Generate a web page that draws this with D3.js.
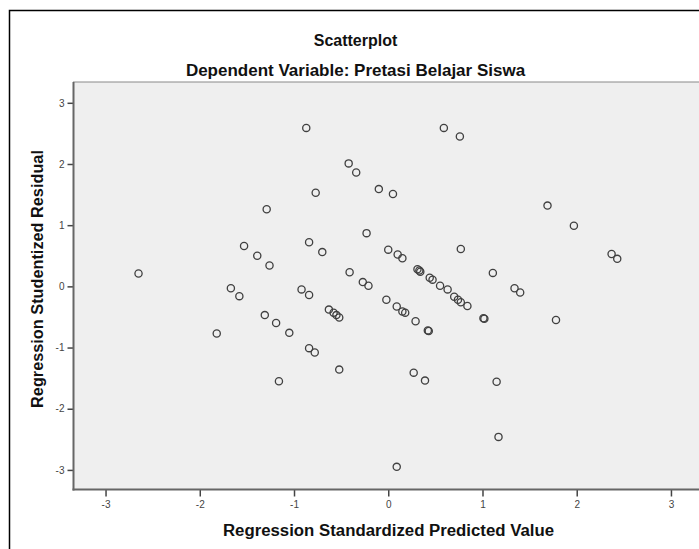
<!DOCTYPE html>
<html>
<head>
<meta charset="utf-8">
<script src="https://cdn.jsdelivr.net/npm/d3@7"></script>
<style>
  body { margin: 0; background: #fff; }
  svg { display: block; font-family: "Liberation Sans", Arial, sans-serif; }
  .title { font-weight: bold; fill: #111; }
</style>
</head>
<body>
<div id="chart"></div>
<script>
// predicted (x) and studentized residual (y)
const predicted = [
  -2.65, -1.82, -1.67, -1.58, -1.53, -1.39, -1.31, -1.29, -1.26, -1.19,
  -1.16, -1.05, -0.92, -0.87, -0.84, -0.84, -0.84, -0.78, -0.77, -0.70,
  -0.63, -0.58, -0.55, -0.52, -0.52, -0.42, -0.41, -0.34, -0.27, -0.23,
  -0.21, -0.10, -0.02, 0.00, 0.05, 0.09, 0.09, 0.10, 0.15, 0.15,
  0.18, 0.27, 0.29, 0.31, 0.33, 0.34, 0.39, 0.42, 0.43, 0.44,
  0.47, 0.55, 0.59, 0.63, 0.70, 0.74, 0.77, 0.76, 0.77, 0.84,
  1.01, 1.02, 1.11, 1.15, 1.17, 1.34, 1.40, 1.69, 1.78, 1.97,
  2.37, 2.43
];
const residual = [
  0.21, -0.77, -0.03, -0.16, 0.66, 0.50, -0.47, 1.26, 0.34, -0.60,
  -1.55, -0.76, -0.05, 2.59, -0.14, 0.72, -1.01, -1.08, 1.53, 0.56,
  -0.38, -0.43, -0.47, -0.51, -1.36, 2.01, 0.23, 1.86, 0.07, 0.87,
  0.01, 1.59, -0.22, 0.60, 1.51, -0.33, -2.95, 0.52, 0.46, -0.41,
  -0.43, -1.41, -0.57, 0.28, 0.26, 0.24, -1.54, -0.72, -0.73, 0.14,
  0.11, 0.01, 2.59, -0.05, -0.17, -0.22, -0.26, 2.45, 0.61, -0.32,
  -0.52, -0.53, 0.22, -1.56, -2.46, -0.03, -0.10, 1.32, -0.55, 0.99,
  0.53, 0.45
];
const tickValues = [-3, -2, -1, 0, 1, 2, 3];

const width = 699, height = 549;
const svg = d3.select("#chart").append("svg")
    .attr("width", width)
    .attr("height", height);

// outer frame (runs off the right and bottom edges)
svg.append("rect")
    .attr("x", 9.5).attr("y", 10.5)
    .attr("width", 720).attr("height", 560)
    .attr("fill", "#fff")
    .attr("stroke", "#000")
    .attr("stroke-width", 1.5);

const plotLeft = 73.5, plotTop = 82, plotBottom = 489.5, plotRight = 703;
const x = d3.scaleLinear().domain([-3.34, 3.34]).range([plotLeft, plotRight]);
const y = d3.scaleLinear().domain([-3.32, 3.34]).range([plotBottom, plotTop]);

svg.append("rect")
    .attr("x", plotLeft).attr("y", plotTop)
    .attr("width", plotRight - plotLeft).attr("height", plotBottom - plotTop)
    .attr("fill", "#efefef")
    .attr("stroke", "#8a8a8a")
    .attr("stroke-width", 1);

const xAxis = svg.append("g")
    .attr("transform", `translate(0,${plotBottom})`)
    .call(d3.axisBottom(x).tickValues(tickValues).tickSize(7).tickPadding(4));
const yAxis = svg.append("g")
    .attr("transform", `translate(${plotLeft},0)`)
    .call(d3.axisLeft(y).tickValues(tickValues).tickSize(6).tickPadding(3));

[xAxis, yAxis].forEach(g => {
    g.select(".domain").remove();
    g.selectAll(".tick line").attr("stroke", "#444").attr("stroke-width", 1.5);
    g.selectAll(".tick text")
        .style("fill", "#444")
        .style("font-size", "10px")
        .style("font-family", "'Liberation Sans', Arial, sans-serif")
        .text(d => String(d)); // plain hyphen, as in SPSS
});

// axis lines
svg.append("line")
    .attr("x1", plotLeft).attr("x2", plotLeft).attr("y1", plotTop).attr("y2", plotBottom + 1)
    .attr("stroke", "#666").attr("stroke-width", 2);
svg.append("line")
    .attr("x1", plotLeft - 1).attr("x2", plotRight).attr("y1", plotBottom).attr("y2", plotBottom)
    .attr("stroke", "#666").attr("stroke-width", 2);

svg.append("g")
    .selectAll("circle")
    .data(predicted)
    .enter()
    .append("circle")
    .attr("cx", d => x(d))
    .attr("cy", (d, i) => y(residual[i]))
    .attr("r", 3.6)
    .attr("fill", "none")
    .attr("stroke", "#404040")
    .attr("stroke-width", 1.3);

svg.append("text")
    .attr("class", "title")
    .attr("x", 355.5).attr("y", 46)
    .attr("text-anchor", "middle")
    .style("font-size", "16px")
    .text("Scatterplot");
svg.append("text")
    .attr("class", "title")
    .attr("x", 355.5).attr("y", 76)
    .attr("text-anchor", "middle")
    .style("font-size", "17px")
    .text("Dependent Variable: Pretasi Belajar Siswa");

svg.append("text")
    .attr("class", "title")
    .attr("x", 388.5).attr("y", 536)
    .attr("text-anchor", "middle")
    .style("font-size", "16.8px")
    .text("Regression Standardized Predicted Value");
svg.append("text")
    .attr("class", "title")
    .attr("transform", "translate(43,279) rotate(-90)")
    .attr("text-anchor", "middle")
    .style("font-size", "16.3px")
    .text("Regression Studentized Residual");
</script>
</body>
</html>
